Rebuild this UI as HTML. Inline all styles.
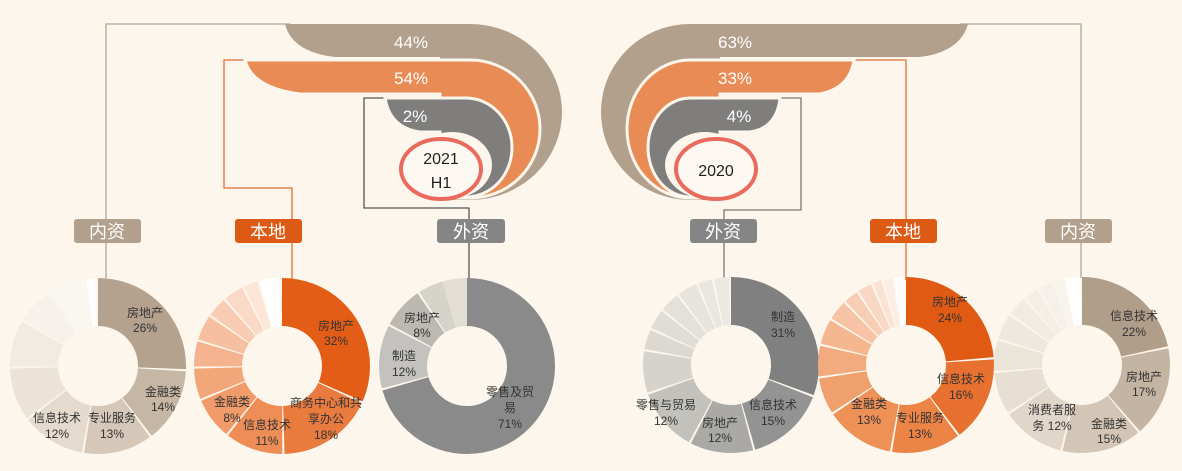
<!DOCTYPE html>
<html><head><meta charset="utf-8"><style>
html,body{margin:0;padding:0;background:#fcf6ec;}
svg{display:block;}
text{font-family:"Liberation Sans","Noto Sans CJK SC",sans-serif;}
.lb{font-size:12px;fill:#333;text-anchor:middle;}
.pc{font-size:17px;fill:#fff;text-anchor:middle;}
.bx{font-size:18px;fill:#fff;text-anchor:middle;}
</style></head><body>
<svg width="1182" height="471" viewBox="0 0 1182 471" xmlns="http://www.w3.org/2000/svg">
<rect width="1182" height="471" fill="#fcf6ec"/>

<g fill="none" stroke-width="1.3">
<path d="M290,24 H106 V278" stroke="#b5a594"/>
<path d="M250,60 H224 V188 H292 V280" stroke="#e2702f"/>
<path d="M390,98 H364 V208 H469 V282" stroke="#555"/>
<path d="M960,24 H1081 V278" stroke="#b5a594"/>
<path d="M850,60 H906 V280" stroke="#e2702f"/>
<path d="M775,98 H801 V210 H724 V280" stroke="#777"/>
</g>

<path d="M285,24 L470,24 A92,88 0 0 1 470,200 L440,200 L440,57 L335,57 Q292,52 285,24 Z" fill="#b29f8c"/>
<path d="M245,60 L470,60 A70,69 0 0 1 470,198 L440,198 L440,94 L300,94 Q252,88 245,60 Z" fill="#e98b54" stroke="#fcf6ec" stroke-width="3"/>
<path d="M385,98 L466,98 A46,49.5 0 0 1 466,197 L440,197 L440,132 L420,132 Q390,128 385,98 Z" fill="#7f7e7d" stroke="#fcf6ec" stroke-width="3"/>
<ellipse cx="452" cy="165" rx="40" ry="33" fill="#fcf6ec"/>
<ellipse cx="441" cy="169" rx="40" ry="30" fill="#fdf9f2" stroke="#ea6b5d" stroke-width="4"/>
<text class="pc" x="411" y="48">44%</text>
<text class="pc" x="411" y="84">54%</text>
<text class="pc" x="415" y="122">2%</text>
<text x="441" y="164" font-size="16" text-anchor="middle" fill="#222">2021</text>
<text x="441" y="188" font-size="16" text-anchor="middle" fill="#222">H1</text>

<path d="M968,24 L690,24 A89,88 0 0 0 690,200 L720,200 L720,57 L920,57 Q960,52 968,24 Z" fill="#b29f8c"/>
<path d="M854,60 L690,60 A63,69 0 0 0 690,198 L720,198 L720,94 L820,94 Q850,88 854,60 Z" fill="#e98b54" stroke="#fcf6ec" stroke-width="3"/>
<path d="M780,98 L690,98 A42,49.5 0 0 0 690,197 L720,197 L720,132 L750,132 Q777,128 780,98 Z" fill="#7f7e7d" stroke="#fcf6ec" stroke-width="3"/>
<ellipse cx="705" cy="165" rx="40" ry="33" fill="#fcf6ec"/>
<ellipse cx="716" cy="169" rx="40" ry="30" fill="#fdf9f2" stroke="#ea6b5d" stroke-width="4"/>
<text class="pc" x="735" y="48">63%</text>
<text class="pc" x="735" y="84">33%</text>
<text class="pc" x="739" y="122">4%</text>
<text x="716" y="176" font-size="16" text-anchor="middle" fill="#222">2020</text>

<g>
<rect x="74" y="219" width="67" height="24" rx="3" fill="#b29f8c"/><text class="bx" x="107" y="238">内资</text>
<rect x="235" y="219" width="67" height="24" rx="3" fill="#dd5a14"/><text class="bx" x="268" y="238">本地</text>
<rect x="437" y="219" width="68" height="24" rx="3" fill="#858585"/><text class="bx" x="471" y="238">外资</text>
<rect x="690" y="219" width="67" height="24" rx="3" fill="#858585"/><text class="bx" x="723" y="238">外资</text>
<rect x="870" y="219" width="67" height="24" rx="3" fill="#dd5a14"/><text class="bx" x="903" y="238">本地</text>
<rect x="1045" y="219" width="67" height="24" rx="3" fill="#b29f8c"/><text class="bx" x="1078" y="238">内资</text>
</g>

<g transform="translate(98,366) rotate(-90)" fill="none" stroke-width="48">
<circle r="64" pathLength="100" stroke="#b4a18e" stroke-dasharray="25.6 100" stroke-dashoffset="0"/>
<circle r="64" pathLength="100" stroke="#c6b6a4" stroke-dasharray="13.6 100" stroke-dashoffset="-26"/>
<circle r="64" pathLength="100" stroke="#d5c8b8" stroke-dasharray="12.6 100" stroke-dashoffset="-40"/>
<circle r="64" pathLength="100" stroke="#e4dacd" stroke-dasharray="11.6 100" stroke-dashoffset="-53"/>
<circle r="64" pathLength="100" stroke="#ebe3d8" stroke-dasharray="9.6 100" stroke-dashoffset="-65"/>
<circle r="64" pathLength="100" stroke="#f1ebe2" stroke-dasharray="8.6 100" stroke-dashoffset="-75"/>
<circle r="64" pathLength="100" stroke="#f6f1ea" stroke-dasharray="6.6 100" stroke-dashoffset="-84"/>
<circle r="64" pathLength="100" stroke="#faf6f0" stroke-dasharray="6.6 100" stroke-dashoffset="-91"/>
<circle r="64" pathLength="100" stroke="#ffffff" stroke-dasharray="1.6 100" stroke-dashoffset="-98"/>
</g>
<text class="lb" x="145" y="317">房地产</text><text class="lb" x="145" y="332">26%</text>
<text class="lb" x="163" y="396">金融类</text><text class="lb" x="163" y="411">14%</text>
<text class="lb" x="112" y="422">专业服务</text><text class="lb" x="112" y="438">13%</text>
<text class="lb" x="57" y="422">信息技术</text><text class="lb" x="57" y="438">12%</text>

<g transform="translate(282,366) rotate(-90)" fill="none" stroke-width="48">
<circle r="64" pathLength="100" stroke="#e35d17" stroke-dasharray="31.6 100" stroke-dashoffset="0"/>
<circle r="64" pathLength="100" stroke="#ea7b3e" stroke-dasharray="17.6 100" stroke-dashoffset="-32"/>
<circle r="64" pathLength="100" stroke="#ee8d55" stroke-dasharray="10.6 100" stroke-dashoffset="-50"/>
<circle r="64" pathLength="100" stroke="#f09b69" stroke-dasharray="7.6 100" stroke-dashoffset="-61"/>
<circle r="64" pathLength="100" stroke="#f2a77b" stroke-dasharray="5.6 100" stroke-dashoffset="-69"/>
<circle r="64" pathLength="100" stroke="#f4b38e" stroke-dasharray="4.6 100" stroke-dashoffset="-75"/>
<circle r="64" pathLength="100" stroke="#f6c0a0" stroke-dasharray="4.6 100" stroke-dashoffset="-80"/>
<circle r="64" pathLength="100" stroke="#f8ccb2" stroke-dasharray="3.6 100" stroke-dashoffset="-85"/>
<circle r="64" pathLength="100" stroke="#fad9c6" stroke-dasharray="3.6 100" stroke-dashoffset="-89"/>
<circle r="64" pathLength="100" stroke="#fbe6d8" stroke-dasharray="2.6 100" stroke-dashoffset="-93"/>
<circle r="64" pathLength="100" stroke="#ffffff" stroke-dasharray="3.6 100" stroke-dashoffset="-96"/>
</g>
<text class="lb" x="336" y="330">房地产</text><text class="lb" x="336" y="345">32%</text>
<text class="lb" x="326" y="407">商务中心和共</text><text class="lb" x="326" y="423">享办公</text><text class="lb" x="326" y="439">18%</text>
<text class="lb" x="267" y="429">信息技术</text><text class="lb" x="267" y="445">11%</text>
<text class="lb" x="232" y="406">金融类</text><text class="lb" x="232" y="422">8%</text>

<g transform="translate(467,366) rotate(-90)" fill="none" stroke-width="48">
<circle r="64" pathLength="100" stroke="#8a8a8a" stroke-dasharray="70.6 100" stroke-dashoffset="0"/>
<circle r="64" pathLength="100" stroke="#c4c2be" stroke-dasharray="11.6 100" stroke-dashoffset="-71"/>
<circle r="64" pathLength="100" stroke="#bcb9b2" stroke-dasharray="7.6 100" stroke-dashoffset="-83"/>
<circle r="64" pathLength="100" stroke="#d6d3cb" stroke-dasharray="4.6 100" stroke-dashoffset="-91"/>
<circle r="64" pathLength="100" stroke="#e2ded5" stroke-dasharray="4.6 100" stroke-dashoffset="-95.6"/>
</g>
<text class="lb" x="422" y="322">房地产</text><text class="lb" x="422" y="337">8%</text>
<text class="lb" x="404" y="360">制造</text><text class="lb" x="404" y="376">12%</text>
<text class="lb" x="510" y="396">零售及贸</text><text class="lb" x="510" y="412">易</text><text class="lb" x="510" y="428">71%</text>

<g transform="translate(731,365) rotate(-90)" fill="none" stroke-width="48">
<circle r="64" pathLength="100" stroke="#808080" stroke-dasharray="30.6 100" stroke-dashoffset="0"/>
<circle r="64" pathLength="100" stroke="#939393" stroke-dasharray="14.6 100" stroke-dashoffset="-31"/>
<circle r="64" pathLength="100" stroke="#aaa9a6" stroke-dasharray="11.6 100" stroke-dashoffset="-46"/>
<circle r="64" pathLength="100" stroke="#c3c1bc" stroke-dasharray="11.6 100" stroke-dashoffset="-58"/>
<circle r="64" pathLength="100" stroke="#d6d3cc" stroke-dasharray="7.6 100" stroke-dashoffset="-70"/>
<circle r="64" pathLength="100" stroke="#dcd9d2" stroke-dasharray="3.6 100" stroke-dashoffset="-78"/>
<circle r="64" pathLength="100" stroke="#e0ddd6" stroke-dasharray="3.6 100" stroke-dashoffset="-82"/>
<circle r="64" pathLength="100" stroke="#e4e1da" stroke-dasharray="3.6 100" stroke-dashoffset="-86"/>
<circle r="64" pathLength="100" stroke="#e7e4dd" stroke-dasharray="3.6 100" stroke-dashoffset="-90"/>
<circle r="64" pathLength="100" stroke="#eae7e0" stroke-dasharray="2.6 100" stroke-dashoffset="-94"/>
<circle r="64" pathLength="100" stroke="#ece9e2" stroke-dasharray="2.8 100" stroke-dashoffset="-97"/>
</g>
<text class="lb" x="783" y="321">制造</text><text class="lb" x="783" y="337">31%</text>
<text class="lb" x="773" y="409">信息技术</text><text class="lb" x="773" y="425">15%</text>
<text class="lb" x="720" y="427">房地产</text><text class="lb" x="720" y="442">12%</text>
<text class="lb" x="666" y="409">零售与贸易</text><text class="lb" x="666" y="425">12%</text>

<g transform="translate(906,365) rotate(-90)" fill="none" stroke-width="48">
<circle r="64" pathLength="100" stroke="#e05a14" stroke-dasharray="23.6 100" stroke-dashoffset="0"/>
<circle r="64" pathLength="100" stroke="#e8712f" stroke-dasharray="15.6 100" stroke-dashoffset="-24"/>
<circle r="64" pathLength="100" stroke="#ec8446" stroke-dasharray="12.6 100" stroke-dashoffset="-40"/>
<circle r="64" pathLength="100" stroke="#ee9156" stroke-dasharray="12.6 100" stroke-dashoffset="-53"/>
<circle r="64" pathLength="100" stroke="#f0a06c" stroke-dasharray="6.6 100" stroke-dashoffset="-66"/>
<circle r="64" pathLength="100" stroke="#f2ab7e" stroke-dasharray="5.6 100" stroke-dashoffset="-73"/>
<circle r="64" pathLength="100" stroke="#f4b790" stroke-dasharray="4.6 100" stroke-dashoffset="-79"/>
<circle r="64" pathLength="100" stroke="#f6c3a4" stroke-dasharray="3.6 100" stroke-dashoffset="-84"/>
<circle r="64" pathLength="100" stroke="#f7cdb4" stroke-dasharray="2.6 100" stroke-dashoffset="-88"/>
<circle r="64" pathLength="100" stroke="#f8d7c5" stroke-dasharray="2.6 100" stroke-dashoffset="-91"/>
<circle r="64" pathLength="100" stroke="#fae2d4" stroke-dasharray="1.6 100" stroke-dashoffset="-94"/>
<circle r="64" pathLength="100" stroke="#fcece2" stroke-dasharray="1.6 100" stroke-dashoffset="-96"/>
<circle r="64" pathLength="100" stroke="#ffffff" stroke-dasharray="1.8 100" stroke-dashoffset="-98"/>
</g>
<text class="lb" x="950" y="306">房地产</text><text class="lb" x="950" y="322">24%</text>
<text class="lb" x="961" y="383">信息技术</text><text class="lb" x="961" y="399">16%</text>
<text class="lb" x="920" y="422">专业服务</text><text class="lb" x="920" y="438">13%</text>
<text class="lb" x="869" y="408">金融类</text><text class="lb" x="869" y="424">13%</text>

<g transform="translate(1082,365) rotate(-90)" fill="none" stroke-width="48">
<circle r="64" pathLength="100" stroke="#b09d8a" stroke-dasharray="21.6 100" stroke-dashoffset="0"/>
<circle r="64" pathLength="100" stroke="#c4b4a2" stroke-dasharray="16.6 100" stroke-dashoffset="-22"/>
<circle r="64" pathLength="100" stroke="#d3c6b6" stroke-dasharray="14.6 100" stroke-dashoffset="-39"/>
<circle r="64" pathLength="100" stroke="#e0d6c9" stroke-dasharray="11.6 100" stroke-dashoffset="-54"/>
<circle r="64" pathLength="100" stroke="#e7dfd3" stroke-dasharray="7.6 100" stroke-dashoffset="-66"/>
<circle r="64" pathLength="100" stroke="#ebe4d9" stroke-dasharray="5.6 100" stroke-dashoffset="-74"/>
<circle r="64" pathLength="100" stroke="#eee8de" stroke-dasharray="4.6 100" stroke-dashoffset="-80"/>
<circle r="64" pathLength="100" stroke="#f1ebe2" stroke-dasharray="3.6 100" stroke-dashoffset="-85"/>
<circle r="64" pathLength="100" stroke="#f3eee6" stroke-dasharray="2.6 100" stroke-dashoffset="-89"/>
<circle r="64" pathLength="100" stroke="#f5f0e9" stroke-dasharray="2.6 100" stroke-dashoffset="-92"/>
<circle r="64" pathLength="100" stroke="#f7f3ed" stroke-dasharray="1.6 100" stroke-dashoffset="-95"/>
<circle r="64" pathLength="100" stroke="#ffffff" stroke-dasharray="2.8 100" stroke-dashoffset="-97"/>
</g>
<text class="lb" x="1134" y="320">信息技术</text><text class="lb" x="1134" y="336">22%</text>
<text class="lb" x="1144" y="381">房地产</text><text class="lb" x="1144" y="396">17%</text>
<text class="lb" x="1109" y="428">金融类</text><text class="lb" x="1109" y="443">15%</text>
<text class="lb" x="1052" y="414">消费者服</text><text class="lb" x="1052" y="430">务 12%</text>
</svg>
</body></html>
